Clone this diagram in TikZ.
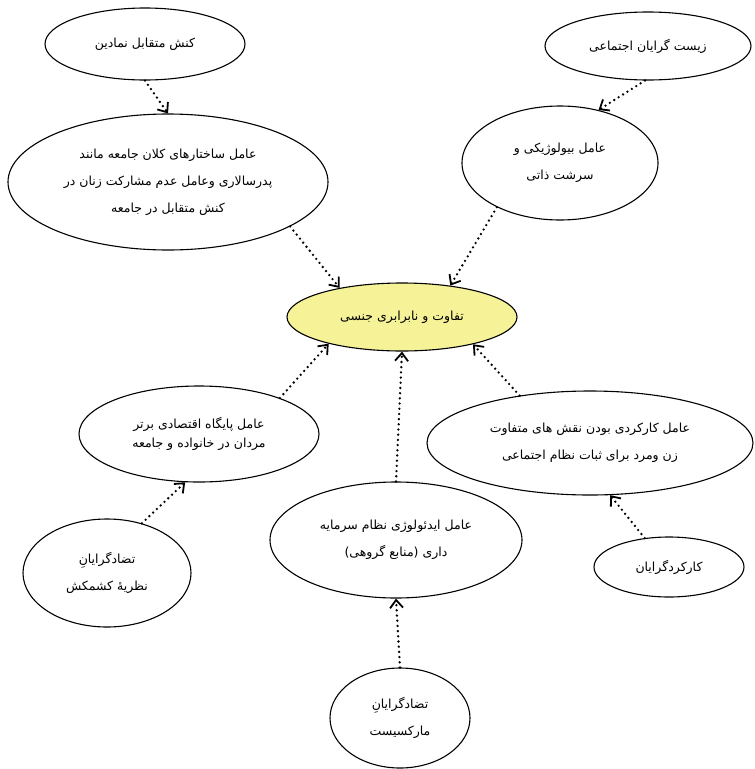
\documentclass[tikz,border=0pt]{standalone}
\usepackage{fontspec}
\usepackage{tikz}
\usetikzlibrary{shapes.geometric}
\usetikzlibrary{arrows.meta}
\TeXXeTstate=1
\newfontfamily\farsifont[Script=Arabic]{DejaVu Sans}
\newcommand\faline[1]{\beginR #1\endR}
\definecolor{coreyellow}{RGB}{246,242,152}

\begin{document}
\begin{tikzpicture}[x=1pt,y=-1pt,
  oval/.style={ellipse,draw,line width=1.1pt,inner sep=0pt,align=center,
    font=\fontsize{12.5}{27}\selectfont\farsifont},
  flow/.style={line width=2.6pt,dash pattern=on 0pt off 5.2pt,line cap=round,
    -{Straight Barb[length=8pt,width=13pt,line width=1.8pt]}}]

\useasboundingbox (0,0) rectangle (755,769);

% schools of thought
\node[oval,minimum width=200,minimum height=72] (symb) at (145,44) {\faline{کنش متقابل نمادین}};
\node[oval,minimum width=206,minimum height=68] (biosoc) at (648,46) {\faline{زیست گرایان اجتماعی}};
\node[oval,minimum width=168,minimum height=108] (conf) at (107,573) {\faline{تضادگرایانِ}\\\faline{نظریهٔ کشمکش}};
\node[oval,minimum width=150,minimum height=60] (kark) at (669,567) {\faline{کارکردگرایان}};
\node[oval,minimum width=140,minimum height=100] (marx) at (400,718) {\faline{تضادگرایانِ}\\\faline{مارکسیست}};

% factors
\node[oval,minimum width=320,minimum height=136] (struct) at (168,182) {\faline{عامل ساختارهای کلان جامعه مانند}\\\faline{پدرسالاری وعامل عدم مشارکت زنان در}\\\faline{کنش متقابل در جامعه}};
\node[oval,minimum width=196,minimum height=114] (bio) at (560,163) {\faline{عامل بیولوژیکی و}\\\faline{سرشت ذاتی}};
\node[oval,minimum width=240,minimum height=96,font=\fontsize{12.5}{19}\selectfont\farsifont] (econ) at (199,434) {\faline{عامل پایگاه اقتصادی برتر}\\\faline{مردان در خانواده و جامعه}};
\node[oval,minimum width=326,minimum height=104] (func) at (590,443) {\faline{عامل کارکردی بودن نقش های متفاوت}\\\faline{زن ومرد برای ثبات نظام اجتماعی}};
\node[oval,minimum width=252,minimum height=116] (ideo) at (396,540) {\faline{عامل ایدئولوژی نظام سرمایه}\\\faline{داری (منابع گروهی)}};

\node[oval,fill=coreyellow,minimum width=230,minimum height=68] (core) at (402,317) {\faline{تفاوت و نابرابری جنسی}};

\draw[flow] (symb.south) -- (struct.north);
\draw[flow] (biosoc.265) -- (bio.54);
\draw[flow] (struct.-20) -- (core.155);
\draw[flow] (bio.215) -- (core.33);
\draw[flow] (econ.24) -- (core.200);
\draw[flow] (ideo.north) -- (core.south);
\draw[flow] (func.146) -- (core.-21);
\draw[flow] (conf.55) -- (econ.254);
\draw[flow] (marx.north) -- (ideo.south);
\draw[flow] (kark.130) -- (func.-69);
\end{tikzpicture}
\end{document}
